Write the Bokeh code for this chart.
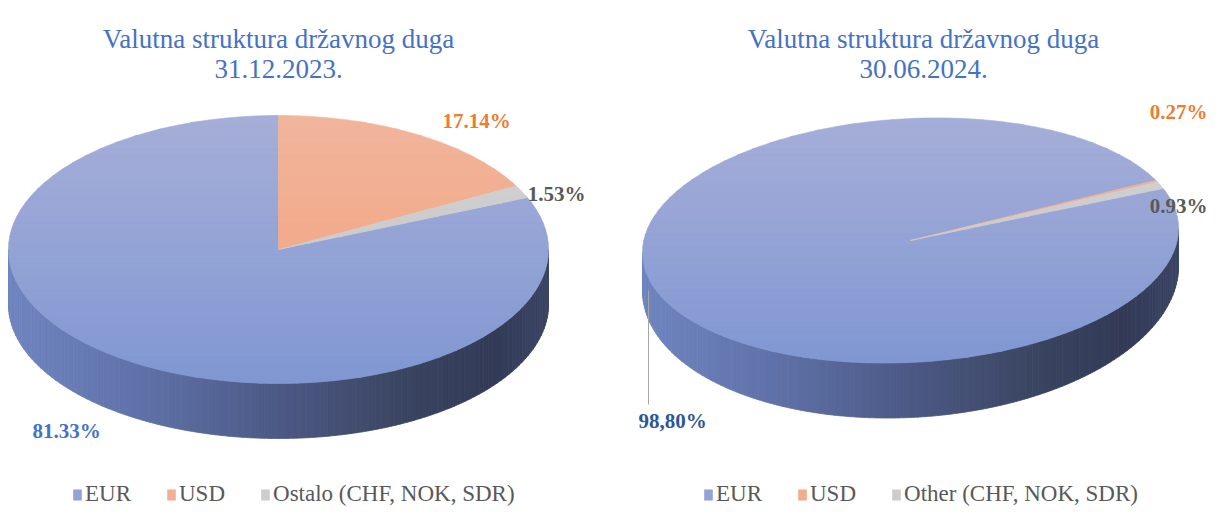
import math
from bokeh.plotting import figure
from bokeh.models import ColumnDataSource, Label, Legend, LegendItem, Range1d
from bokeh.layouts import row
from bokeh.core.properties import value
from bokeh.embed import file_html
from bokeh.resources import INLINE

# ---------------- data ----------------
categories_left = ["EUR", "USD", "Ostalo (CHF, NOK, SDR)"]
categories_right = ["EUR", "USD", "Other (CHF, NOK, SDR)"]
values_left = [81.33, 17.14, 1.53]
values_right = [98.80, 0.27, 0.93]
labels_left = ["81.33%", "17.14%", "1.53%"]
labels_right = ["98,80%", "0.27%", "0.93%"]
title_left = ["Valutna struktura državnog duga", "31.12.2023."]
title_right = ["Valutna struktura državnog duga", "30.06.2024."]

# ---------------- style ----------------
FONT = "'Liberation Serif', serif"
TITLE_COLOR = "#4472c4"
TOP_STOPS = [
    [(0.0, "#a5aed8"), (0.5, "#94a3d5"), (1.0, "#7f97d2")],
    [(0.0, "#f1b59c"), (1.0, "#f49f78")],
    [(0.0, "#d4d4d4"), (1.0, "#c2c2c2")],
]
SIDE_STOPS = [
    [(0.0, "#6f85c0"), (0.25, "#5f71a8"), (0.5, "#4c5985"), (0.75, "#39435f"), (0.9, "#323a56"), (1.0, "#3b4564")],
    [(0.0, "#d98a62"), (1.0, "#8a5035")],
    [(0.0, "#a8a8a8"), (1.0, "#6b6b6b")],
]
LABEL_COLORS = ["#4472c4", "#ed7d31", "#595959"]
W_LEFT, W_RIGHT, H = 604, 605, 507


def hex2rgb(h):
    h = h.lstrip("#")
    return tuple(int(h[i:i + 2], 16) for i in (0, 2, 4))


def grad(stops, f):
    f = min(max(f, 0.0), 1.0)
    for (f0, c0), (f1, c1) in zip(stops[:-1], stops[1:]):
        if f <= f1:
            t = 0 if f1 == f0 else (f - f0) / (f1 - f0)
            a, b = hex2rgb(c0), hex2rgb(c1)
            return "#%02x%02x%02x" % tuple(int(round(a[i] + (b[i] - a[i]) * t)) for i in range(3))
    return stops[-1][1]


def clip_band(poly, y0, y1):
    def clip_half(pts, inside, yc):
        out = []
        n = len(pts)
        for i in range(n):
            cur, prev = pts[i], pts[i - 1]
            if inside(cur):
                if not inside(prev):
                    t = (yc - prev[1]) / (cur[1] - prev[1])
                    out.append((prev[0] + t * (cur[0] - prev[0]), yc))
                out.append(cur)
            elif inside(prev):
                t = (yc - prev[1]) / (cur[1] - prev[1])
                out.append((prev[0] + t * (cur[0] - prev[0]), yc))
        return out
    pts = clip_half(poly, lambda p: p[1] >= y0, y0)
    if len(pts) < 3:
        return []
    pts = clip_half(pts, lambda p: p[1] <= y1, y1)
    return pts if len(pts) >= 3 else []


def draw_pie(p, vals, cats, cx, cy, rx, ry, depth, depth_front, shear, start_deg):
    def pt(t_deg, bottom=False):
        t = math.radians(t_deg)
        c, s = math.cos(t), math.sin(t)
        dz = (depth + depth_front * max(0.0, -s)) if bottom else 0.0
        return (cx + rx * c, cy - ry * s - shear * rx * c + dz)

    total = float(sum(vals))
    spans = []
    a = start_deg
    for v in vals:
        sp = 360.0 * v / total
        spans.append((a - sp, a))
        a -= sp

    # sides (front half only)
    for k, (lo, hi) in enumerate(spans):
        xs, ys, cols = [], [], []
        for m in range(-2, 3):
            f0, f1 = 180 + 360 * m, 360 + 360 * m
            s0, s1 = max(lo, f0), min(hi, f1)
            if s1 <= s0:
                continue
            nseg = max(1, int(math.ceil((s1 - s0) / 1.5)))
            for j in range(nseg):
                a0 = s0 + (s1 - s0) * j / nseg
                a1 = s0 + (s1 - s0) * (j + 1) / nseg
                ts = [a0 + (a1 - a0) * q / 3 for q in range(4)]
                top = [pt(t) for t in ts]
                bot = [pt(t, True) for t in reversed(ts)]
                poly = top + bot
                xm = sum(q[0] for q in top) / len(top)
                cols.append(grad(SIDE_STOPS[k], (xm - (cx - rx)) / (2 * rx)))
                xs.append([q[0] for q in poly])
                ys.append([q[1] for q in poly])
        if xs:
            src = ColumnDataSource(dict(xs=xs, ys=ys, color=cols))
            p.patches("xs", "ys", source=src, fill_color="color", line_color="color", line_width=0.8)

    # tops
    allpts = [pt(t) for t in range(0, 360, 2)]
    ymin = min(q[1] for q in allpts)
    ymax = max(q[1] for q in allpts)
    nb = 40
    items = []
    for k, (lo, hi) in enumerate(spans):
        n = max(2, int(math.ceil((hi - lo) / 1.0)))
        arc = [pt(hi - (hi - lo) * j / n) for j in range(n + 1)]
        poly = [(cx, cy)] + arc
        xs, ys, cols = [], [], []
        for b in range(nb):
            y0 = ymin + (ymax - ymin) * b / nb
            y1 = ymin + (ymax - ymin) * (b + 1) / nb + 0.6
            cp = clip_band(poly, y0, y1)
            if not cp:
                continue
            xs.append([q[0] for q in cp])
            ys.append([q[1] for q in cp])
            cols.append(grad(TOP_STOPS[k], (b + 0.5) / nb))
        src = ColumnDataSource(dict(xs=xs, ys=ys, color=cols))
        r = p.patches("xs", "ys", source=src, fill_color="color", line_color="color", line_width=0.6)
        items.append(LegendItem(label=cats[k], renderers=[r], index=len(xs) // 2))
    return items


def make_fig(x0, w):
    p = figure(width=w, height=H, x_range=Range1d(x0, x0 + w), y_range=Range1d(H, 0),
               output_backend="svg", toolbar_location=None, min_border=0,
               x_axis_location=None, y_axis_location=None)
    p.xgrid.visible = False
    p.ygrid.visible = False
    p.outline_line_color = None
    p.background_fill_color = "white"
    return p


def add_title(p, xc, lines):
    for i, t in enumerate(lines):
        p.add_layout(Label(x=xc, y=38 + 30 * i, text=t, text_align="center",
                           text_baseline="alphabetic", text_font=FONT,
                           text_font_size="27px", text_color=TITLE_COLOR))


def add_legend(p, items, x):
    lg = Legend(items=items, orientation="horizontal", location=(x, 0),
                glyph_width=10, glyph_height=13, label_standoff=3, spacing=35,
                padding=0, margin=0, label_height=14,
                label_text_font=FONT, label_text_font_size="23px", label_text_color="#595959",
                background_fill_alpha=0, border_line_alpha=0)
    p.add_layout(lg)


# ---------------- left chart ----------------
pl = make_fig(0, W_LEFT)
add_title(pl, 278, title_left)
items_l = draw_pie(pl, values_left, categories_left, cx=278, cy=249, rx=270, ry=134,
                   depth=55, depth_front=0, shear=0.0, start_deg=22.8)
pl.text(x=[66, 476, 556], y=[430, 120, 193], text=labels_left,
        text_color=LABEL_COLORS, text_align="center", text_baseline="middle",
        text_font=value(FONT), text_font_style="bold", text_font_size="21px")
add_legend(pl, items_l, 72)

# ---------------- right chart ----------------
pr = make_fig(W_LEFT, W_RIGHT)
add_title(pr, 923, title_right)
items_r = draw_pie(pr, values_right, categories_right, cx=910, cy=240, rx=268, ry=122,
                   depth=38, depth_front=17, shear=0.045, start_deg=19.5)
pr.segment(x0=[648], y0=[290], x1=[648], y1=[404], line_color="#a6a6a6", line_width=1)
pr.text(x=[672, 1207, 1207], y=[420, 111, 205], text=labels_right,
        text_color=["#2f5597", "#ed7d31", "#595959"], text_align=["center", "right", "right"],
        text_baseline="middle", text_font=value(FONT), text_font_style="bold",
        text_font_size="21px")
add_legend(pr, items_r, 99)

layout = row(pl, pr)
open("out.html", "w").write(file_html(layout, INLINE))
